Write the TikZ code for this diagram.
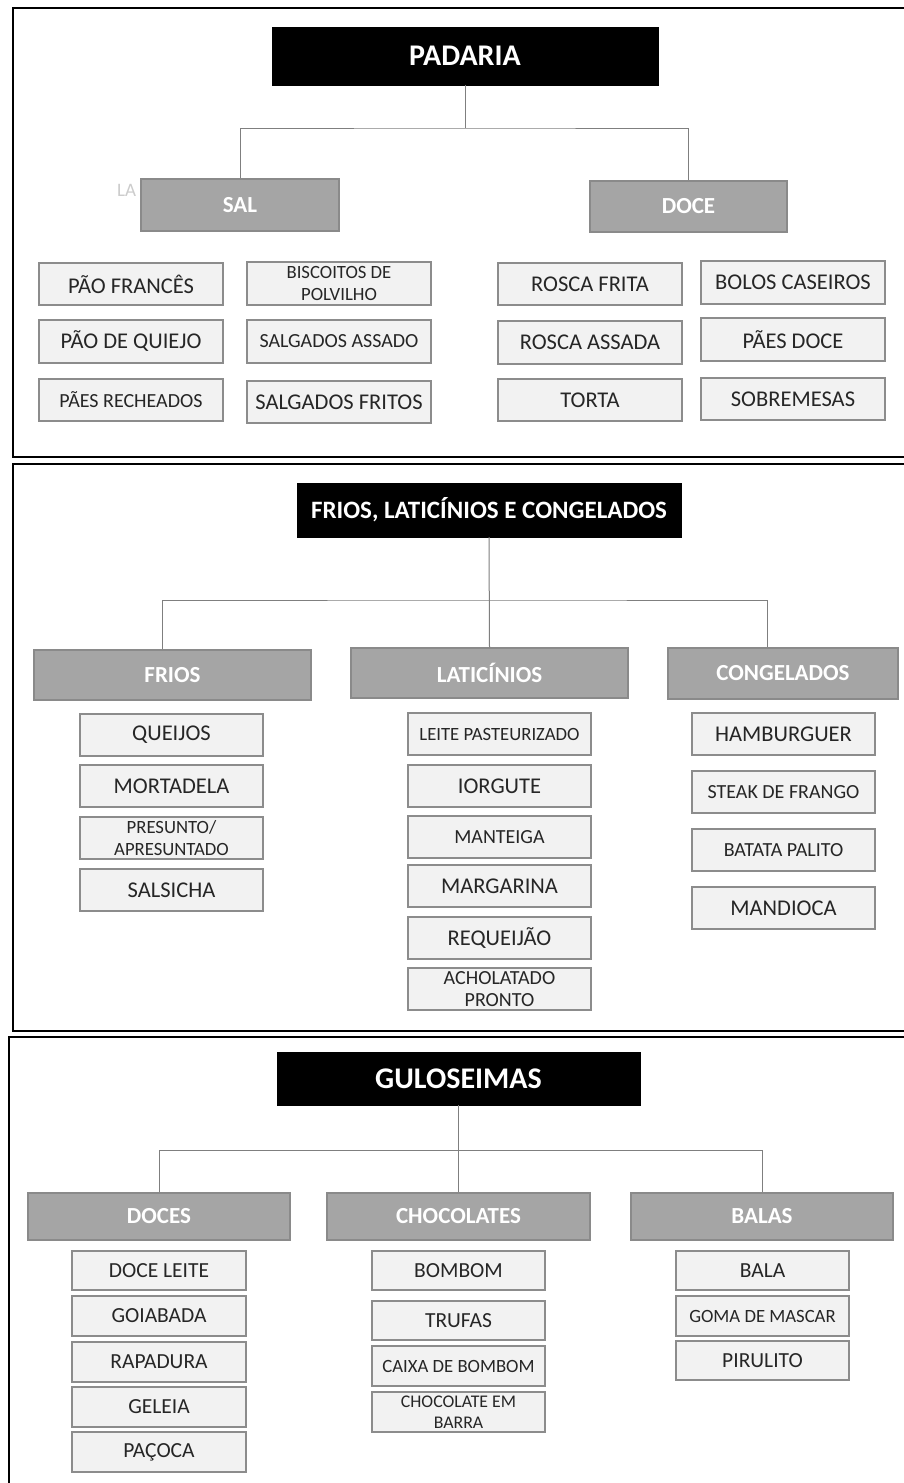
\documentclass[tikz,border=0pt]{standalone}
\usepackage{fontspec}
\setmainfont{Carlito}
\definecolor{hdrfill}{HTML}{A5A5A5}
\definecolor{hdrline}{HTML}{8A8A8A}
\definecolor{itemfill}{HTML}{F2F2F2}
\definecolor{itemline}{HTML}{8C8C8C}
\definecolor{connline}{HTML}{7F7F7F}
\tikzset{
  titlebox/.style={fill=black, draw=black, text=white, font=\bfseries\fontsize{30}{32}\selectfont, inner sep=0pt},
  groupbox/.style={fill=hdrfill, draw=hdrline, line width=1.2pt, text=white, font=\bfseries\fontsize{23}{25}\selectfont, inner sep=0pt},
  itembox/.style={fill=itemfill, draw=itemline, line width=1.2pt, text=black!85, font=\fontsize{22.5}{25}\selectfont, inner sep=0pt, align=center},
  lowitem/.style={itembox, font=\fontsize{21.5}{24}\selectfont},
  mid/.style={font=\fontsize{20}{22}\selectfont},
  small/.style={font=\fontsize{18.7}{21.5}\selectfont},
  tiny/.style={font=\fontsize{17.8}{20.5}\selectfont},
  frame/.style={draw=black, line width=2.6pt},
  conn/.style={draw=connline, line width=1pt}
}
% \bx{name}{x1}{y1}{x2}{y2}{style}{text}
\newcommand\bx[7]{%
  \node[#6, minimum width={(#4)-(#2)}, minimum height={(#5)-(#3)}]
    (#1) at ({((#2)+(#4))/2},{((#3)+(#5))/2}) {#7};}
\begin{document}
\begin{tikzpicture}[x=1pt,y=-1pt]
\useasboundingbox (0,0) rectangle (904,1483);
\clip (0,0) rectangle (904,1483);
\fill[white] (0,0) rectangle (904,1483);

% ---------- frames ----------
\draw[frame] (13,8) rectangle (930,457);
\draw[frame] (13,464) rectangle (930,1031);
\draw[frame] (9,1037) rectangle (930,1500);

% ---------- PADARIA ----------
\node[text=gray!40, font=\fontsize{19}{21}\selectfont, inner sep=0pt, anchor=west] (lbl) at (117,190) {LA};
\bx{padaria}{272}{27}{658}{85}{titlebox}{\raisebox{-4pt}{PADARIA}}
\bx{sal}{141}{179}{339}{231}{groupbox}{SAL}
\bx{doce}{590}{181}{787}{232}{groupbox}{DOCE}
\coordinate (j1) at (465,128);
\draw[conn] (padaria.south) -- (j1);
\draw[conn] (sal.north) |- (j1) -| (doce.north);

\bx{a1}{39}{263}{223}{305}{itembox}{PÃO FRANCÊS}
\bx{a2}{39}{320}{223}{363}{itembox}{PÃO DE QUIEJO}
\bx{a3}{39}{379}{223}{421}{itembox,mid}{PÃES RECHEADOS}
\bx{b1}{247}{262}{431}{305}{itembox,small}{BISCOITOS DE\\POLVILHO}
\bx{b2}{247}{320}{431}{363}{itembox,mid}{SALGADOS ASSADO}
\bx{b3}{247}{381}{431}{423}{itembox}{SALGADOS FRITOS}
\bx{c1}{498}{263}{682}{305}{itembox}{ROSCA FRITA}
\bx{c2}{498}{321}{682}{364}{itembox}{ROSCA ASSADA}
\bx{c3}{498}{379}{682}{421}{itembox}{TORTA}
\bx{d1}{701}{261}{885}{304}{itembox}{BOLOS CASEIROS}
\bx{d2}{701}{318}{885}{361}{itembox}{PÃES DOCE}
\bx{d3}{701}{378}{885}{420}{itembox}{SOBREMESAS}

% ---------- FRIOS, LATICINIOS E CONGELADOS ----------
\bx{flc}{297}{483}{681}{537}{titlebox,font=\bfseries\fontsize{25}{27}\selectfont}{FRIOS, LATICÍNIOS E CONGELADOS}
\bx{frios}{34}{650}{311}{700}{groupbox}{FRIOS}
\bx{lat}{351}{648}{628}{698}{groupbox}{LATICÍNIOS}
\bx{cong}{668}{648}{898}{699}{groupbox}{CONGELADOS}
\coordinate (j2) at (489,600);
\draw[conn] (flc.south) -- (lat.north);
\draw[conn] ([xshift=-10pt]frios.north) |- (j2) -| ([xshift=-16pt]cong.north);

\bx{f1}{80}{714}{263}{756}{itembox}{QUEIJOS}
\bx{f2}{80}{765}{263}{807}{itembox}{MORTADELA}
\bx{f3}{80}{817}{263}{859}{itembox,small}{PRESUNTO/\\APRESUNTADO}
\bx{f4}{80}{869}{263}{911}{itembox}{SALSICHA}
\bx{l1}{408}{713}{591}{755}{itembox,small}{LEITE PASTEURIZADO}
\bx{l2}{408}{765}{591}{807}{itembox}{IORGUTE}
\bx{l3}{408}{816}{591}{858}{itembox,mid}{MANTEIGA}
\bx{l4}{408}{865}{591}{907}{itembox}{MARGARINA}
\bx{l5}{408}{917}{591}{959}{itembox}{REQUEIJÃO}
\bx{l6}{408}{968}{591}{1010}{itembox,mid}{ACHOLATADO\\PRONTO}
\bx{g1}{692}{713}{875}{755}{itembox}{HAMBURGUER}
\bx{g2}{692}{771}{875}{813}{itembox,mid}{STEAK DE FRANGO}
\bx{g3}{692}{829}{875}{871}{itembox,mid}{BATATA PALITO}
\bx{g4}{692}{887}{875}{929}{itembox}{MANDIOCA}

% ---------- GULOSEIMAS ----------
\bx{gul}{277}{1052}{640}{1105}{titlebox}{GULOSEIMAS}
\bx{doces}{28}{1193}{290}{1240}{groupbox}{DOCES}
\bx{choc}{327}{1193}{590}{1240}{groupbox}{CHOCOLATES}
\bx{balas}{631}{1193}{893}{1240}{groupbox}{BALAS}
\coordinate (j3) at (458,1150);
\draw[conn] (gul.south) -- (choc.north);
\draw[conn] (doces.north) |- (j3) -| (balas.north);

\bx{h1}{72}{1251}{246}{1290}{lowitem}{DOCE LEITE}
\bx{h2}{72}{1296}{246}{1336}{lowitem}{GOIABADA}
\bx{h3}{72}{1342}{246}{1382}{lowitem}{RAPADURA}
\bx{h4}{72}{1387}{246}{1427}{lowitem}{GELEIA}
\bx{h5}{72}{1432}{246}{1472}{lowitem}{PAÇOCA}
\bx{k1}{372}{1251}{545}{1290}{lowitem}{BOMBOM}
\bx{k2}{372}{1301}{545}{1340}{lowitem}{TRUFAS}
\bx{k3}{372}{1346}{545}{1386}{lowitem,small}{CAIXA DE BOMBOM}
\bx{k4}{372}{1392}{545}{1432}{lowitem,tiny}{CHOCOLATE EM\\BARRA}
\bx{m1}{676}{1251}{849}{1290}{lowitem}{BALA}
\bx{m2}{676}{1296}{849}{1336}{lowitem,small}{GOMA DE MASCAR}
\bx{m3}{676}{1341}{849}{1380}{lowitem}{PIRULITO}
\end{tikzpicture}
\end{document}
